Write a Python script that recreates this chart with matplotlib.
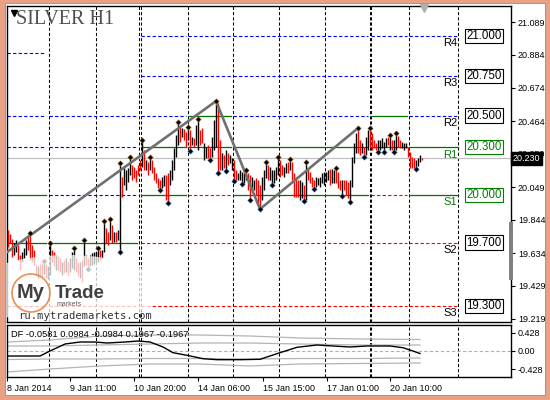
import matplotlib
matplotlib.use('Agg')
import matplotlib.pyplot as plt
from matplotlib.patches import Rectangle, Circle, Ellipse

plt.rcParams['font.family'] = ['Liberation Sans', 'DejaVu Sans']

# ---- H1 bars (index 0 = first visible bar) ----
highs = [19.778, 19.753, 19.722, 19.696, 19.715, 19.684, 19.621, 19.640, 19.665, 19.715,
         19.747, 19.760, 19.684, 19.653, 19.558, 19.552, 19.564, 19.570, 19.583, 19.564,
         19.552, 19.696, 19.653, 19.640, 19.621, 19.615, 19.602, 19.577, 19.589, 19.602,
         19.577, 19.602, 19.640, 19.665, 19.602, 19.577, 19.577, 19.589, 19.715, 19.621,
         19.602, 19.621, 19.634, 19.640, 19.640, 19.665, 19.653, 19.653, 19.835, 19.791,
         19.766, 19.848, 19.810, 19.766, 19.766, 19.778, 20.201, 20.112, 20.169, 20.157,
         20.169, 20.238, 20.188, 20.175, 20.157, 20.188, 20.220, 20.346, 20.283, 20.220,
         20.207, 20.238, 20.220, 20.175, 20.138, 20.106, 20.094, 20.112, 20.125, 20.125,
         20.138, 20.157, 20.220, 20.295, 20.377, 20.459, 20.427, 20.421, 20.415, 20.396,
         20.427, 20.408, 20.364, 20.358, 20.440, 20.478, 20.408, 20.421, 20.327, 20.301,
         20.314, 20.295, 20.364, 20.472, 20.591, 20.579, 20.346, 20.264, 20.251, 20.283,
         20.264, 20.251, 20.232, 20.220, 20.157, 20.138, 20.157, 20.144, 20.138, 20.157,
         20.138, 20.125, 20.112, 20.094, 20.106, 20.094, 20.062, 20.112, 20.157, 20.207,
         20.188, 20.175, 20.157, 20.157, 20.175, 20.238, 20.220, 20.188, 20.175, 20.201,
         20.207, 20.226, 20.207, 20.138, 20.112, 20.094, 20.094, 20.081, 20.062, 20.207,
         20.169, 20.144, 20.112, 20.094, 20.112, 20.106, 20.112, 20.138, 20.144, 20.144,
         20.157, 20.163, 20.163, 20.157, 20.169, 20.144, 20.094, 20.094, 20.094, 20.094,
         20.081, 20.094, 20.238, 20.327, 20.390, 20.421, 20.346, 20.327, 20.301, 20.364,
         20.408, 20.421, 20.390, 20.346, 20.327, 20.346, 20.346, 20.358, 20.333, 20.358,
         20.364, 20.377, 20.346, 20.346, 20.390, 20.371, 20.346, 20.333, 20.327, 20.327,
         20.301, 20.270, 20.238, 20.232, 20.220, 20.232, 20.251, 20.232]
lows = [19.671, 19.696, 19.608, 19.621, 19.640, 19.589, 19.527, 19.577, 19.602, 19.621,
        19.653, 19.589, 19.577, 19.558, 19.495, 19.476, 19.489, 19.483, 19.502, 19.476,
        19.470, 19.495, 19.577, 19.552, 19.527, 19.527, 19.514, 19.495, 19.508, 19.514,
        19.495, 19.514, 19.539, 19.527, 19.514, 19.489, 19.476, 19.451, 19.552, 19.558,
        19.533, 19.552, 19.558, 19.564, 19.577, 19.577, 19.589, 19.602, 19.640, 19.696,
        19.684, 19.715, 19.696, 19.703, 19.703, 19.715, 19.640, 19.986, 20.062, 20.031,
        20.081, 20.125, 20.094, 20.106, 20.081, 20.125, 20.157, 20.175, 20.157, 20.157,
        20.125, 20.157, 20.138, 20.094, 20.075, 20.043, 20.031, 20.043, 20.056, 19.968,
        19.949, 20.062, 20.094, 20.157, 20.238, 20.314, 20.333, 20.364, 20.346, 20.301,
        20.346, 20.276, 20.314, 20.301, 20.314, 20.283, 20.314, 20.327, 20.220, 20.232,
        20.232, 20.220, 20.238, 20.283, 20.301, 20.138, 20.157, 20.157, 20.169, 20.150,
        20.188, 20.201, 20.157, 20.087, 20.094, 20.094, 20.094, 20.068, 20.075, 20.094,
        20.031, 19.968, 20.031, 20.031, 19.999, 19.936, 19.911, 19.968, 20.031, 20.106,
        20.094, 20.094, 20.062, 20.075, 20.094, 20.125, 20.112, 20.125, 20.112, 20.138,
        20.138, 20.157, 20.094, 19.986, 19.986, 19.986, 19.968, 19.980, 19.961, 19.968,
        20.094, 20.075, 20.049, 20.037, 20.049, 20.062, 20.049, 20.075, 20.062, 20.081,
        20.094, 20.062, 20.075, 20.075, 20.075, 20.043, 20.031, 19.993, 20.031, 19.999,
        19.980, 19.955, 20.049, 20.201, 20.264, 20.264, 20.251, 20.264, 20.238, 20.251,
        20.283, 20.301, 20.283, 20.295, 20.283, 20.270, 20.283, 20.295, 20.270, 20.301,
        20.314, 20.283, 20.283, 20.270, 20.283, 20.301, 20.295, 20.295, 20.283, 20.295,
        20.238, 20.169, 20.169, 20.169, 20.163, 20.182, 20.207, 20.220]
bull = [0, 0, 0, 1, 1, 0, 0, 1, 1, 1, 0, 0, 0, 0, 0, 1, 0, 0, 1, 0,
        1, 1, 0, 0, 1, 0, 0, 1, 0, 1, 0, 1, 1, 1, 0, 0, 1, 0, 1, 0,
        0, 1, 1, 1, 1, 1, 0, 1, 1, 0, 0, 1, 0, 1, 0, 1, 1, 0, 1, 1,
        1, 1, 0, 0, 0, 0, 0, 1, 0, 1, 0, 1, 0, 0, 0, 0, 0, 1, 1, 0,
        0, 1, 1, 1, 1, 1, 0, 1, 0, 0, 1, 0, 1, 0, 1, 1, 0, 0, 1, 1,
        0, 0, 1, 1, 1, 0, 0, 1, 0, 1, 0, 1, 1, 0, 0, 1, 1, 1, 1, 1,
        0, 0, 1, 1, 0, 0, 0, 1, 1, 1, 0, 1, 1, 1, 1, 1, 0, 0, 1, 1,
        0, 1, 0, 0, 0, 0, 1, 1, 0, 1, 0, 0, 0, 0, 1, 1, 1, 1, 1, 1,
        1, 0, 1, 1, 0, 0, 0, 1, 0, 0, 0, 1, 1, 1, 1, 0, 0, 1, 0, 1,
        1, 0, 0, 0, 0, 1, 1, 1, 1, 1, 0, 1, 0, 1, 1, 0, 0, 1, 1, 1,
        0, 0, 0, 0, 1, 1, 1, 0]

top_fractals = [11, 18, 21, 33, 38, 45, 48, 51, 56, 61, 67, 71, 85, 90, 95, 104,
                119, 129, 135, 141, 149, 164, 175, 181, 191, 194]
bottom_fractals = [40, 56, 76, 80, 91, 101, 105, 109, 113, 117, 121, 126, 132,
                   148, 153, 167, 171, 178, 185, 188, 193, 204]

# zigzag turning points (bar index, price)
zz_idx = [-6, 104, 126, 175]
zz_price = [19.59, 20.591, 19.911, 20.421]

current_price = 20.230

# day separators (bar index), double lines mark week ends
separators = [20.5, 44, 65.5, 66.5, 90, 112.5, 135.5, 158.5, 181, 181.5, 200.5, 225]

# pivot levels; state per period: b = above (blue), g = touched (green), r = below (red)
periods = [(-0.5, 19), (20.5, 64.5), (66.5, 89), (90, 111.5), (112.5, 180), (181.5, 199.5), (200.5, 225)]
level_names = ['R4', 'R3', 'R2', 'R1', 'S1', 'S2', 'S3']
level_values = [21.000, 20.750, 20.500, 20.300, 20.000, 19.700, 19.300]
level_states = ['--bbbbb', '--bbbbb', 'bbbgbgb', 'bbggggg', 'gbgrgrg', 'ggrrrrr', 'rrrrrrr']
level_label_colors = ['black', 'black', 'black', 'green', 'green', 'black', 'black']
old_level = 20.894  # extra level on the first day only

price_ticks = [21.089, 20.884, 20.674, 20.464, 20.259, 20.049, 19.844, 19.634, 19.429, 19.219]

# ---- DF oscillator ----
df_idx = [-0.5, 16, 21, 28.5, 36, 43.5, 49.5, 58.5, 65, 71, 77.5, 82.5, 89.5, 97.5,
          104.5, 116, 126, 136, 144.5, 154.5, 162.5, 171, 179.5, 191, 197.5, 201, 206]
df_vals = [-0.116, -0.116, 0.0, 0.162, 0.208, 0.208, 0.185, 0.208, 0.231, 0.208, 0.093,
           -0.039, -0.100, -0.178, -0.201, -0.201, -0.192, -0.039, 0.086, 0.139, 0.116,
           0.093, 0.116, 0.116, 0.076, 0.023, -0.058]
band_idx = [-0.5, 21, 46, 71, 96, 121, 146, 176, 206]
band_up2 = [0.208, 0.255, 0.347, 0.370, 0.370, 0.347, 0.301, 0.278, 0.266]
band_up1 = [0.116, 0.116, 0.139, 0.162, 0.185, 0.185, 0.162, 0.139, 0.139]
band_dn1 = [-0.197, -0.185, -0.185, -0.174, -0.174, -0.185, -0.174, -0.174, -0.162]
band_dn2 = [-0.486, -0.417, -0.347, -0.301, -0.301, -0.347, -0.301, -0.289, -0.278]
osc_ticks = [0.428, 0.0, -0.428]
osc_tick_labels = ['0.428', '0.00', '-0.428']

time_ticks = [-0.5, 31, 63, 95, 127.5, 159.5, 191]
time_labels = ['8 Jan 2014', '9 Jan 11:00', '10 Jan 20:00', '14 Jan 06:00',
               '15 Jan 15:00', '17 Jan 01:00', '20 Jan 10:00']

W, H = 550, 400
fig = plt.figure(figsize=(5.5, 4), dpi=100, facecolor='#e8a186')
fig.patches.append(Rectangle((5 / W, 5 / H), 540 / W, 392 / H, transform=fig.transFigure,
                             facecolor='white', edgecolor='#c87a60', lw=0.6, zorder=-5))

ax = fig.add_axes([7 / W, 1 - 322 / H, 504 / W, 316 / H])
ax2 = fig.add_axes([7 / W, 1 - 377 / H, 504 / W, 52 / H])
for a in (ax, ax2):
    a.set_facecolor('white')
    a.set_xlim(-0.5, 251.5)
    for s in a.spines.values():
        s.set_linewidth(1.0)
        s.set_color('black')
    for x in separators:
        a.axvline(x, color='black', lw=0.75, ls=(0, (3, 2)), zorder=1)

ax.set_ylim(19.200, 21.190)
ax2.set_ylim(-0.602, 0.602)

# pivot level lines
styles = {'b': dict(color='#0000ff', ls=(0, (3, 2)), lw=0.8),
          'g': dict(color='#007000', ls='-', lw=0.9),
          'r': dict(color='#ff0000', ls=(0, (3, 2)), lw=0.8)}
for value, states in zip(level_values, level_states):
    for (x0, x1), st in zip(periods, states):
        if st in styles:
            ax.plot([x0, x1], [value, value], zorder=2, **styles[st])
ax.plot([periods[0][0], periods[0][1]], [old_level, old_level], zorder=2, **styles['b'])

# level boxes and names
for name, value, col in zip(level_names, level_values, level_label_colors):
    ax.text(238, value, f'{value:.3f}', ha='center', va='center', fontsize=8.3, color=col,
            bbox=dict(boxstyle='square,pad=0.1', fc='white', ec=col, lw=0.8), zorder=6)
    ax.text(224.8, value - 0.046, name, ha='right', va='center', fontsize=8, color=col, zorder=6)

# current price line
ax.axhline(current_price, color='#c0c0c0', lw=0.9, zorder=2)

# bars
colors = ['black' if b else '#ff0000' for b in bull]
ax.vlines(range(len(highs)), lows, highs, colors=colors, lw=1.0, zorder=3)

# zigzag
ax.plot(zz_idx, zz_price, color='#707070', lw=1.9, zorder=4, solid_capstyle='round')

# fractals
ax.plot(top_fractals, [highs[i] for i in top_fractals], 'D', ms=2.8, color='black',
        mec='#c08848', mew=0.35, zorder=5)
ax.plot(bottom_fractals, [lows[i] for i in bottom_fractals], 'D', ms=2.8, color='black',
        mec='#5080c8', mew=0.35, zorder=5)

# watermark logo
tr = ax.transAxes
ax.add_patch(Ellipse((60 / 504, 1 - (290 - 6) / 316), 190 / 504, 70 / 316, transform=tr,
                     facecolor='white', alpha=0.75, lw=0, zorder=5))
ax.add_patch(Circle((31, 400 - 293), 19, transform=None, facecolor='none', edgecolor='#e8732a',
                    lw=1.2, alpha=0.8, zorder=6))
ax.text(10 / 504, 1 - (293 - 6) / 316, 'My', fontsize=14.5, fontweight='bold', color='#404040',
        ha='left', va='center', transform=tr, zorder=7)
ax.text(48 / 504, 1 - (293 - 6) / 316, 'Trade', fontsize=13.5, fontweight='bold', color='#404040',
        ha='left', va='center', transform=tr, zorder=7)
ax.text(50 / 504, 1 - (305 - 6) / 316, 'markets', fontsize=5, color='#606060',
        ha='left', va='center', transform=tr, zorder=7)
ax.text(11 / 504, 1 - (316 - 6) / 316, 'ru.mytrademarkets.com', fontsize=7.6,
        family='DejaVu Sans Mono', color='#333333', ha='left', va='center', transform=tr, zorder=7)

# title and markers
ax.text(9 / 504, 1 - (20 - 6) / 316, 'SILVER H1', fontsize=14.5, family='Liberation Serif',
        color='#505050', ha='left', va='center', transform=tr, zorder=7)
ax.plot([6.5 / 504], [1 - (13 - 6) / 316], marker='v', ms=4, color='black', transform=tr,
        clip_on=False, zorder=7)
ax.plot([417 / 504], [1 - (8 - 6) / 316], marker='v', ms=6, color='#b0b0b0', transform=tr,
        clip_on=False, zorder=7)

# price axis
ax.yaxis.tick_right()
ax.set_yticks(price_ticks)
ax.set_yticklabels([f'{t:.3f}' for t in price_ticks])
ax.tick_params(axis='y', length=3, width=0.8, pad=2, labelsize=6.5, colors='black')
ax.set_xticks([])
ax.text(1.004, current_price, f'{current_price:.3f}', transform=ax.get_yaxis_transform(),
        ha='left', va='center', fontsize=6.5, color='white', zorder=10, clip_on=False,
        bbox=dict(boxstyle='square,pad=0.2', fc='black', ec='black'))
fig.patches.append(Rectangle((509 / W, 1 - 280 / H), 4 / W, 58 / H, transform=fig.transFigure,
                             facecolor='#808080', edgecolor='none', zorder=5))

# oscillator panel
ax2.axhline(0, color='#b0b0b0', lw=0.8, ls=(0, (3, 2)), zorder=1)
for band in (band_up2, band_up1, band_dn1, band_dn2):
    ax2.plot(band_idx, band, color='#b4b4b4', lw=0.9, zorder=2)
ax2.plot(df_idx, df_vals, color='black', lw=1.0, zorder=3)
ax2.text(1.5, 0.39, 'DF -0.0581 0.0984 -0.0984 0.1967 -0.1967', fontsize=6.7,
         ha='left', va='center', zorder=4)
ax2.yaxis.tick_right()
ax2.set_yticks(osc_ticks)
ax2.set_yticklabels(osc_tick_labels)
ax2.tick_params(axis='y', length=3, width=0.8, pad=2, labelsize=6.5)
ax2.set_xticks(time_ticks)
ax2.set_xticklabels(time_labels, ha='left')
ax2.tick_params(axis='x', length=3, width=0.8, pad=2, labelsize=6.4)

fig.savefig('out.png', dpi=100, facecolor=fig.get_facecolor())
